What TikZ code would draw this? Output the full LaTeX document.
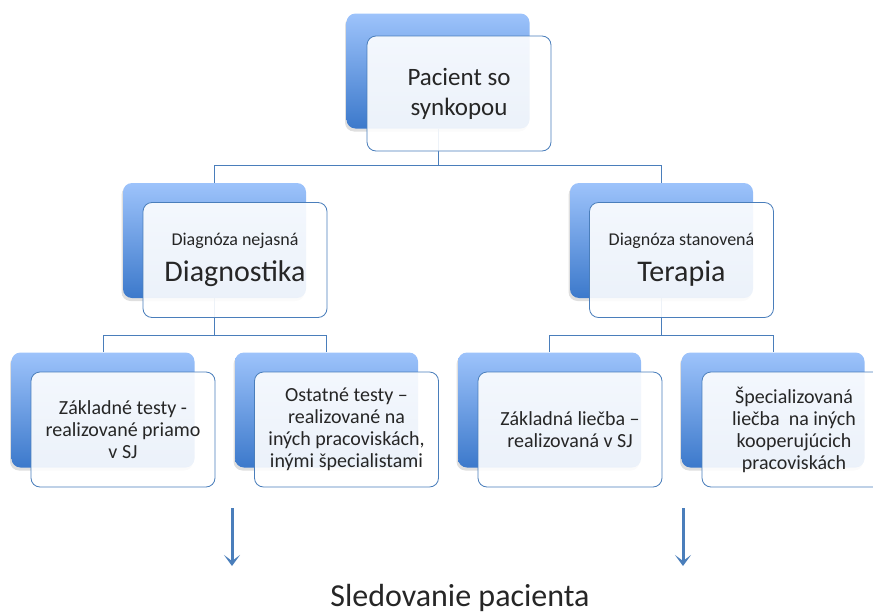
\documentclass[tikz,border=0pt]{standalone}
\usepackage{fontspec}
\setmainfont{Carlito}
\usetikzlibrary{shadows,backgrounds,arrows.meta}
\definecolor{boxline}{HTML}{4A7EBB}
\definecolor{boxtop}{HTML}{9DC3FB}
\definecolor{boxbot}{HTML}{3C79CB}
\definecolor{txt}{HTML}{262626}
\begin{document}
\begin{tikzpicture}[x=1pt, y=-1pt, every node/.style={text=txt},
  back/.style={rounded corners=9pt, minimum width=183pt, minimum height=115pt,
    top color=boxtop, bottom color=boxbot,
    drop shadow={shadow xshift=-1.5pt, shadow yshift=-3pt, opacity=0.25}},
  front/.style={draw=boxline, line width=0.8pt, rounded corners=9pt, fill=white,
    fill opacity=0.9, text opacity=1, minimum width=184pt, minimum height=115pt,
    align=center, font=\fontsize{20}{22}\selectfont},
  link/.style={draw=boxline, line width=0.9pt},
  flow/.style={draw=boxline, line width=3pt, -{Stealth[length=11pt, width=16pt, inset=6pt]}}]
  \useasboundingbox (0,0) rectangle (873,613);
  % level 1
  \node[back] (tB) at (438,71) {};
  \node[front, font=\fontsize{25}{30}\selectfont] (tF) at (459,93.5) {Pacient so\\synkopou};
  % level 2
  \node[back] (dB) at (214.5,240.5) {};
  \node[front] (dF) at (235,260) {{\fontsize{18}{22}\selectfont Diagnóza nejasná}\\[11pt]
    {\fontsize{30}{36}\selectfont Diagnostika}};
  \node[back] (rB) at (661.5,240.5) {};
  \node[front] (rF) at (681.5,260) {{\fontsize{18}{22}\selectfont Diagnóza stanovená}\\[11pt]
    {\fontsize{30}{36}\selectfont Terapia}};
  % level 3
  \node[back] (b1) at (103,410) {};
  \node[front] (f1) at (123,429.5) {Základné testy -\\realizované priamo\\v SJ};
  \node[back] (b2) at (326.5,410) {};
  \node[front] (f2) at (346.5,429.5) {Ostatné testy –\\realizované na\\iných pracoviskách,\\inými špecialistami};
  \node[back] (b3) at (549.5,410) {};
  \node[front] (f3) at (570,429.5) {Základná liečba –\\realizovaná v SJ};
  \node[back] (b4) at (773,410) {};
  \node[front] (f4) at (794,429.5) {Špecializovaná\\liečba\ \ na iných\\kooperujúcich\\pracoviskách};
  \begin{scope}[on background layer]
    \draw[link] (tB.south) -- (tB.south |- 0,165) -| (dB.north);
    \draw[link] (tB.south |- 0,165) -| (rB.north);
    \draw[link] (dB.south) -- (dB.south |- 0,335) -| (b1.north);
    \draw[link] (dB.south |- 0,335) -| (b2.north);
    \draw[link] (rB.south) -- (rB.south |- 0,335) -| (b3.north);
    \draw[link] (rB.south |- 0,335) -| (b4.north);
  \end{scope}
  % follow-up
  \node[anchor=base, font=\fontsize{32}{38}\selectfont] (fin) at (460,606) {Sledovanie pacienta};
  \coordinate (a1) at (232,508);
  \coordinate (a2) at (683,508);
  \draw[flow] (a1) -- (a1 |- 0,566);
  \draw[flow] (a2) -- (a2 |- 0,566);
\end{tikzpicture}
\end{document}
